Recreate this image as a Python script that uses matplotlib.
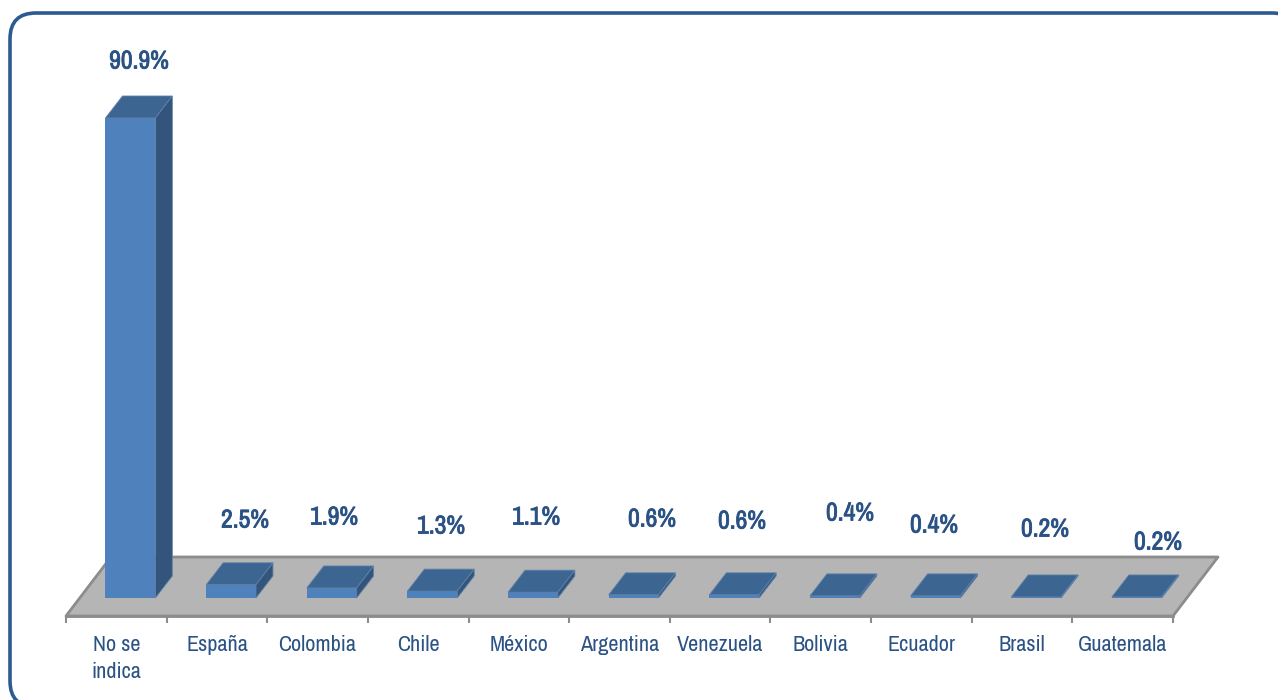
"""Bar chart with a fake 3D look, by country"""

import matplotlib
matplotlib.use("Agg")
import matplotlib.pyplot as plt
import matplotlib.patheffects as pe
from matplotlib.patches import FancyBboxPatch, Polygon

categories = ["No se\nindica", "España", "Colombia", "Chile", "México", "Argentina",
              "Venezuela", "Bolivia", "Ecuador", "Brasil", "Guatemala"]
values = [90.9, 2.5, 1.9, 1.3, 1.1, 0.6, 0.6, 0.4, 0.4, 0.2, 0.2]

# Where the value labels sit in the picture (pixels)
label_x = [139, 245, 334, 441, 536, 652, 742, 850, 934, 1045, 1158]
label_y = [61, 520, 517, 526, 517, 519, 521, 513, 525, 529, 542]

W, H = 1278, 700
text_color = "#2A5285"
front_color = "#4F81BD"
top_color = "#3D6591"
side_color = "#33557C"
floor_color = "#B5B5B5"
edge_color = "#8C8C8C"

plt.rcParams["font.family"] = ["Archivo Narrow", "Roboto Condensed", "Liberation Sans"]

fig = plt.figure(figsize=(W / 100, H / 100), dpi=100)

# Rounded frame around the chart
bg = fig.add_axes([0, 0, 1, 1])
bg.set_xlim(0, W)
bg.set_ylim(H, 0)
bg.axis("off")
bg.add_patch(FancyBboxPatch((10, 13), 1288, 694, boxstyle="round,pad=0,rounding_size=26",
                            fc="white", ec="#2C5B91", lw=2.6))

# Axes cover the front plane: value 0 at pixel 598, 90.9 at pixel 118
px_per_unit = 480 / 90.9
floor_front = -18 / px_per_unit
ax = fig.add_axes([66 / W, (H - 616) / H, (1173 - 66) / W, (616 - 40) / H])
ax.patch.set_alpha(0)
ax.set_xlim(-0.5, 10.5)
ax.set_ylim(floor_front, floor_front + 576 / px_per_unit)

# Depth of the box and floor, in data units
depth_x = 17 / (1107 / 11)
depth_y = 22 / px_per_unit
floor_x = 45 / (1107 / 11)
floor_y = 41 / px_per_unit

ax.add_patch(Polygon([(-0.5, floor_front), (10.5, floor_front),
                      (10.5 + floor_x, floor_y), (-0.5 + floor_x, floor_y)],
                     fc=floor_color, ec=edge_color, lw=2, clip_on=False, joinstyle="round"))

bar_w = 0.495
for i, v in enumerate(values):
    x0 = i - bar_w / 2 + 0.14
    x1 = x0 + bar_w
    ax.bar(x0, v, width=bar_w, align="edge", color=front_color, zorder=3)
    ax.add_patch(Polygon([(x0, v), (x1, v), (x1 + depth_x, v + depth_y), (x0 + depth_x, v + depth_y)],
                         fc=top_color, ec="#5F82A8", lw=0.6, zorder=3, clip_on=False))
    ax.add_patch(Polygon([(x1, 0), (x1, v), (x1 + depth_x, v + depth_y), (x1 + depth_x, depth_y)],
                         fc=side_color, ec="#5F82A8", lw=0.6, zorder=3, clip_on=False))
    # the narrow font has no bold cut, so thicken it with a stroke
    fig.text(label_x[i] / W, 1 - label_y[i] / H, f"{v}%", color=text_color, fontsize=18.5,
             ha="center", va="center",
             path_effects=[pe.withStroke(linewidth=0.6, foreground=text_color)])

for s in ["top", "left", "right"]:
    ax.spines[s].set_visible(False)
ax.spines["bottom"].set_color(edge_color)
ax.spines["bottom"].set_linewidth(2)
ax.set_yticks([])
ax.set_xticks([i - 0.5 for i in range(12)])
ax.set_xticklabels([])
ax.tick_params(axis="x", which="major", length=5, width=1.5, color=edge_color)
ax.set_xticks(range(11), minor=True)
ax.set_xticklabels(categories, minor=True, fontsize=16, color=text_color, linespacing=1.4, va="top")
ax.tick_params(axis="x", which="minor", length=0, pad=14)

fig.savefig("out.png", dpi=100)
